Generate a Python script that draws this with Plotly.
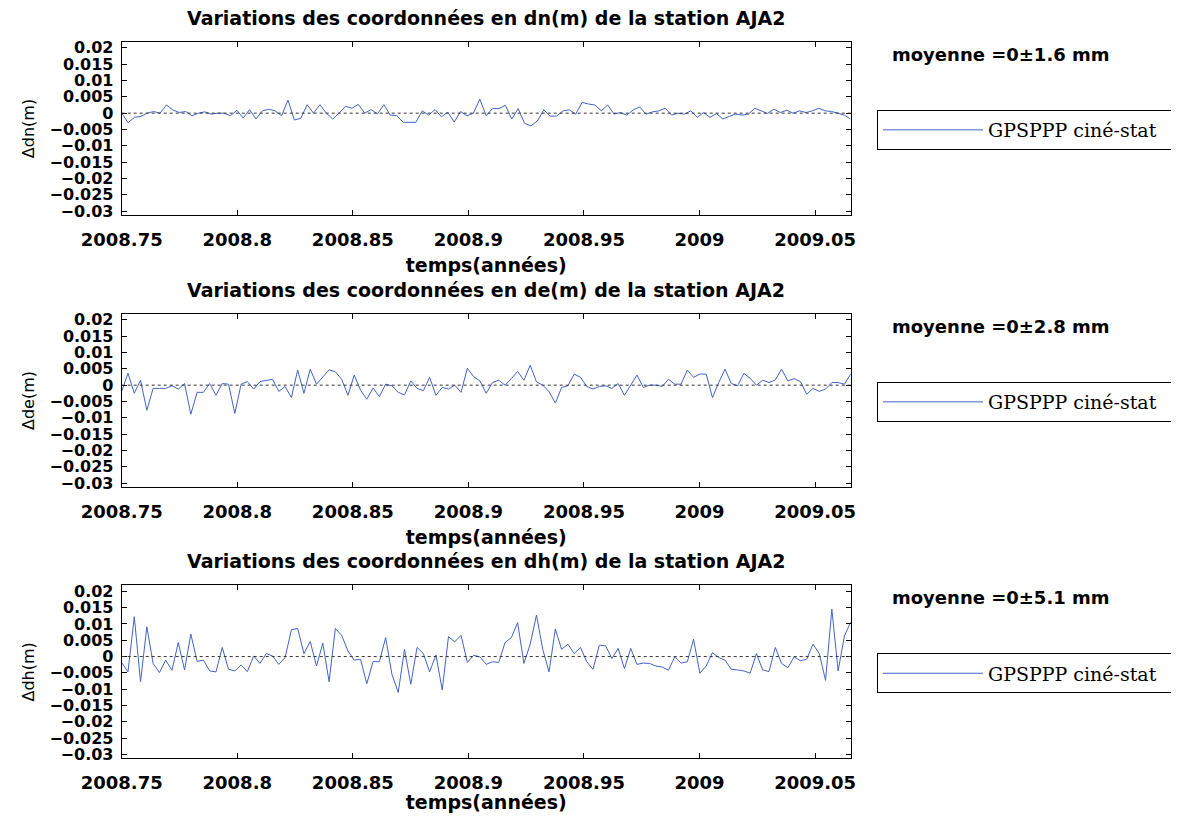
import numpy as np
import plotly.graph_objects as go

# Time span of the series (decimal years)
T_START = 2008.75
T_END = 2009.0654

# Coordinate variations, in mm
DN_MM = [0, -2.9, -1.3, -1.0, 0, 0.5, 0, 2.5, 1.0, 0.2, 0.5, -0.8, 0, 0.4, -0.3, 0, 0,
         -0.8, 0.9, -1.5, 1.1, -1.8, 0.7, 1.2, 0.7, -0.8, 4.0, -2.1, -1.6, 2.6, 0, 2.6,
         0, -1.8, 0, 2.1, 1.5, 2.7, 0, 1.1, -0.2, 2.6, -0.6, -0.7, -2.8, -2.8, -2.8, 0.7,
         -0.6, 1.1, -1.1, 0.3, -2.7, 0.5, -0.8, 0, 4.3, -0.8, 1.4, 1.4, 2.4, -1.8, 1.4,
         -3.1, -3.9, -2.4, 1.0, -0.9, -0.9, 0.7, 1.0, -0.3, 3.3, 2.8, 2.5, 0.7, 2.5, -0.3,
         0.2, -0.6, 1.0, 1.9, -0.3, 0.4, 0.7, 1.5, -0.6, 0, -0.3, 0.7, -1.3, 0.2, -1.3,
         -0.1, -1.8, -1.0, -0.3, -0.6, -0.3, 1.5, 0.7, -0.1, 1.2, 0.2, 0.9, 0, 0.7, 0.2,
         0.7, 1.5, 0.7, 0.5, 0, -0.6, -1.8]

DE_MM = [-1.9, 3.7, -2.5, 1.5, -7.7, -1.0, -1.0, -1.0, -0.2, -1.2, 0.5, -8.9, -2.2, -2.2,
         0.5, -3.1, 0.5, 0.3, -8.7, 0.3, 1.1, -1.2, 1.1, 1.5, 1.8, -1.9, -0.4, -3.8, 4.6,
         -2.5, 4.9, 0.3, 2.6, 4.7, 4.1, 1.8, -3.1, 3.1, -1.5, -4.3, -0.9, -3.5, 0.3, -0.2,
         -2.2, -3.0, 1.3, -1.0, -1.7, 2.4, -3.1, -0.7, -1.2, 0, -2.2, 5.2, 2.6, 1.3, -2.5,
         0.8, 1.5, 0, 2.0, 4.2, 1.5, 6.1, 1.0, 0, -2.0, -5.5, -0.7, -0.2, 3.4, 2.4, -0.4,
         -1.2, -0.4, -0.2, -1.0, 0.5, -3.1, 0, 3.1, -0.7, 0, 0, -0.4, 1.8, 0.3, 0.3, 4.6,
         2.4, 3.4, 3.4, -3.8, 0.8, 4.9, 0.5, -0.2, 3.6, 2.1, 0, 1.5, 0.8, 1.6, 4.9, 1.3,
         2.0, 1.1, -2.8, -1.0, -1.9, -1.2, 0.8, 0.8, 0.3, 3.4]

DH_MM = [-1.8, -4.7, 12.2, -7.7, 9.1, -2.1, -4.9, -1.1, -4.2, 4.3, -4.1, 6.9, -1.5, -1.1,
         -4.4, -4.7, 2.8, -3.9, -4.4, -2.6, -4.6, 0.2, -2.1, 0.9, 0.2, -2.4, -0.3, 8.2,
         8.6, 0.9, 4.6, -2.9, 4.1, -7.7, 8.6, 6.5, 1.7, -1.1, -0.8, -8.3, -1.5, -1.6, 5.8,
         -5.4, -11.0, 2.2, -8.5, 2.8, 0.9, -4.7, 0.5, -10.2, 6.1, 4.5, 6.5, -1.8, 0.4, -0.1,
         -2.4, -1.6, -1.8, 4.3, 5.8, 10.4, -2.1, 3.8, 12.7, 2.2, -4.7, 8.4, 2.2, 3.8, 0.9,
         2.8, -1.6, -3.9, 3.5, 3.3, -0.6, 2.5, -3.7, 2.5, -2.4, -2.0, -2.1, -2.9, -3.2,
         -4.2, -0.1, -2.0, -1.6, 5.3, -5.1, -2.9, 1.2, -0.3, -1.1, -3.9, -4.1, -4.4, -5.1,
         0.9, -4.1, -4.6, 2.8, -2.1, -3.4, -0.1, -1.3, -0.8, 3.8, 0.9, -7.3, 14.5, -4.4,
         6.3, 10.6]

COMPONENTS = ["dn", "de", "dh"]
SERIES_MM = [DN_MM, DE_MM, DH_MM]
SIGMA_MM = [1.6, 2.8, 5.1]

Y_TICKS = [0.02, 0.015, 0.01, 0.005, 0, -0.005, -0.01, -0.015, -0.02, -0.025, -0.03]
Y_TICK_TEXT = ["0.02", "0.015", "0.01", "0.005", "0", "\u22120.005", "\u22120.01",
               "\u22120.015", "\u22120.02", "\u22120.025", "\u22120.03"]
X_TICKS = [2008.75, 2008.8, 2008.85, 2008.9, 2008.95, 2009, 2009.05]
X_TICK_TEXT = ["2008.75", "2008.8", "2008.85", "2008.9", "2008.95", "2009", "2009.05"]

# page body has an 8px margin, so the figure is offset and slightly smaller
OFF = 8
W, H = 1163, 805
LINE_COLOR = "#4363c8"
SANS = "DejaVu Sans"
SERIF = "DejaVu Serif"

# panel boxes in page pixels: (top, bottom)
PANELS_PX = [(42, 215), (314, 487), (585.4, 758.4)]
X_PX = (121.7, 850.7)


def px_x(v):
    return (v - OFF) / W


def px_y(v):
    return 1 - (v - OFF) / H


fig = go.Figure()

for i, (comp, vals, sig) in enumerate(zip(COMPONENTS, SERIES_MM, SIGMA_MM)):
    n = i + 1
    sfx = "" if n == 1 else str(n)
    top, bot = PANELS_PX[i]
    t = np.linspace(T_START, T_END, len(vals))
    y = np.array(vals) / 1000.0

    fig.add_trace(go.Scatter(
        x=t, y=y, mode="lines", name="GPSPPP ciné-stat",
        line=dict(color=LINE_COLOR, width=1),
        xaxis=f"x{sfx}", yaxis=f"y{sfx}",
        legend=f"legend{sfx}", showlegend=True
    ))

    # dotted zero line
    fig.add_shape(type="line", xref=f"x{sfx} domain", yref=f"y{sfx}",
                  x0=0, x1=1, y0=0, y1=0,
                  line=dict(color="#333333", width=1, dash="dot"))

    axis_common = dict(showline=True, linecolor="black", linewidth=1, mirror="ticks",
                       ticks="inside", ticklen=5, tickcolor="black", showgrid=False,
                       zeroline=False)

    fig.update_layout({
        f"xaxis{sfx}": dict(
            axis_common, domain=[px_x(X_PX[0]), px_x(X_PX[1])], anchor=f"y{sfx}",
            range=[T_START, T_END], tickvals=X_TICKS, ticktext=X_TICK_TEXT,
            ticklabelstandoff=8,
            tickfont=dict(family=SANS, size=18, color="black", weight="bold"),
            title=dict(text="temps(années)", standoff=10,
                       font=dict(family=SANS, size=19, color="black", weight="bold"))
        ),
        f"yaxis{sfx}": dict(
            axis_common, domain=[px_y(bot), px_y(top)], anchor=f"x{sfx}",
            range=[-0.0312, 0.0218], tickvals=Y_TICKS, ticktext=Y_TICK_TEXT,
            ticklabelstandoff=4,
            tickfont=dict(family=SANS, size=16, color="black", weight="bold"),
            title=dict(text=f"\u0394{comp}(m)", standoff=10,
                       font=dict(family=SANS, size=16, color="black"))
        ),
        f"legend{sfx}": dict(
            x=px_x(877), y=px_y(top + 68), xanchor="left", yanchor="top",
            orientation="h",
            bordercolor="black", borderwidth=1, bgcolor="white",
            font=dict(family=SERIF, size=19, color="black"),
            entrywidth=330, entrywidthmode="pixels", itemwidth=100,
        ),
    })

    fig.add_annotation(
        text=f"Variations des coordonnées en {comp}(m) de la station AJA2",
        xref="paper", yref="paper", x=px_x((X_PX[0] + X_PX[1]) / 2), y=px_y(top - 24),
        xanchor="center", yanchor="middle", showarrow=False,
        font=dict(family=SANS, size=19, color="black", weight="bold")
    )
    fig.add_annotation(
        text=f"moyenne =0±{sig} mm",
        xref="paper", yref="paper", x=px_x(890), y=px_y(top + 12),
        xanchor="left", yanchor="middle", showarrow=False,
        font=dict(family=SANS, size=18, color="black", weight="bold")
    )

fig.update_layout(
    width=W, height=H, autosize=False,
    margin=dict(l=0, r=0, t=0, b=0, autoexpand=False),
    plot_bgcolor="white", paper_bgcolor="white",
)

fig.write_html("out.html")
